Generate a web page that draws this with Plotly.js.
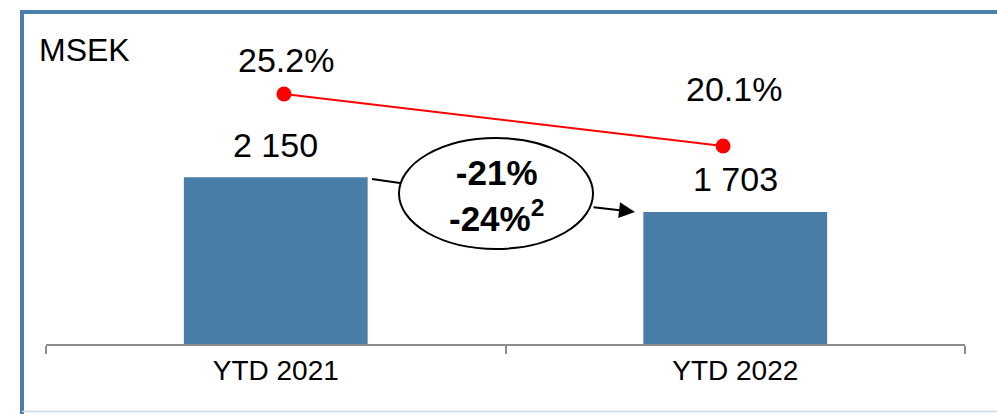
<!DOCTYPE html>
<html>
<head>
<meta charset="utf-8">
<script src="https://cdn.plot.ly/plotly-3.0.1.min.js"></script>
<style>
  html, body { margin: 0; padding: 0; background: #ffffff; }
  #chart { width: 997px; height: 414px; }
</style>
</head>
<body>
<div id="chart"></div>
<script>
// Operating result, year to date, with margin
const periods = ['YTD 2021', 'YTD 2022'];
const resultMsek = [2150, 1703];
const marginPct = [25.2, 20.1];
const unitLabel = 'MSEK';
const changeLines = ['-21%', '-24%<sup>2</sup>'];

const FONT = 'Liberation Sans, Arial, sans-serif';
const BAR_BLUE = '#4a7ea8';
const FRAME_BLUE = '#4a7fab';

// figure geometry (pixels) used to place decorations in paper coordinates
const W = 997, H = 414;
const M = { l: 46, r: 32, t: 30, b: 70 };
const PW = W - M.l - M.r, PH = H - M.t - M.b;
const px = x => (x - M.l) / PW;
const py = y => (H - M.b - y) / PH;

const fmtThousands = v => String(v).replace(/\B(?=(\d{3})+(?!\d))/g, ' ');

const bars = {
  type: 'bar',
  x: periods,
  y: resultMsek,
  width: 0.4,
  marker: { color: BAR_BLUE },
  hoverinfo: 'skip'
};

const margin = {
  type: 'scatter',
  mode: 'lines+markers',
  x: periods,
  y: marginPct,
  xaxis: 'x2',
  yaxis: 'y2',
  line: { color: '#ff0000', width: 2 },
  marker: { color: '#ff0000', size: 15 },
  hoverinfo: 'skip'
};

const annotations = [];

// value labels above the bars
const barShift = [32, 33];
resultMsek.forEach((v, i) => {
  annotations.push({
    x: periods[i], y: v, xref: 'x', yref: 'y',
    text: fmtThousands(v), showarrow: false,
    yanchor: 'middle', yshift: barShift[i],
    font: { family: FONT, size: 34, color: '#000000' }
  });
});

// margin labels above the line points
const pctShift = [[2, 34], [11, 57]];
marginPct.forEach((v, i) => {
  annotations.push({
    x: periods[i], y: v, xref: 'x2', yref: 'y2',
    text: v.toFixed(1) + '%', showarrow: false,
    yanchor: 'middle', xshift: pctShift[i][0], yshift: pctShift[i][1],
    font: { family: FONT, size: 34, color: '#000000' }
  });
});

// unit label
annotations.push({
  x: px(37), y: py(50), xref: 'paper', yref: 'paper',
  xanchor: 'left', yanchor: 'middle', showarrow: false,
  text: unitLabel,
  font: { family: FONT, size: 32, color: '#000000' }
});

// change figures inside the ellipse
annotations.push({
  x: px(496), y: py(195), xref: 'paper', yref: 'paper',
  xanchor: 'center', yanchor: 'middle', showarrow: false,
  text: '<b>' + changeLines.join('<br>') + '</b>',
  font: { family: FONT, size: 35, color: '#000000' }
});

// arrow from the ellipse towards the second bar
annotations.push({
  x: px(635), y: py(212), xref: 'paper', yref: 'paper',
  ax: px(592), ay: py(207), axref: 'paper', ayref: 'paper',
  text: '', showarrow: true,
  arrowhead: 2, arrowsize: 1.6, arrowwidth: 2, arrowcolor: '#000000'
});

const shapes = [
  // chart frame
  { type: 'line', xref: 'paper', yref: 'paper',
    x0: px(22), y0: py(12), x1: px(1000), y1: py(12),
    line: { color: FRAME_BLUE, width: 4 } },
  { type: 'line', xref: 'paper', yref: 'paper',
    x0: px(22), y0: py(10), x1: px(22), y1: py(414),
    line: { color: FRAME_BLUE, width: 4 } },
  { type: 'line', xref: 'paper', yref: 'paper',
    x0: px(22), y0: py(411.5), x1: px(1000), y1: py(411.5),
    line: { color: '#c9d6e2', width: 1.5 } },
  // connector from first bar to the ellipse
  { type: 'line', xref: 'paper', yref: 'paper',
    x0: px(372), y0: py(179), x1: px(400), y1: py(183),
    line: { color: '#000000', width: 2 } },
  // ellipse
  { type: 'circle', xref: 'paper', yref: 'paper',
    x0: px(399), y0: py(249), x1: px(593), y1: py(138),
    fillcolor: '#ffffff', line: { color: '#000000', width: 2 } }
];

const layout = {
  width: W, height: H,
  margin: M,
  paper_bgcolor: '#ffffff',
  plot_bgcolor: '#ffffff',
  showlegend: false,
  font: { family: FONT, color: '#000000' },
  xaxis: {
    type: 'category',
    range: [-0.5, 1.5],
    showline: true, linecolor: '#8c8c8c', linewidth: 2,
    ticks: 'outside', tickson: 'boundaries',
    ticklen: 8, tickwidth: 2, tickcolor: '#8c8c8c',
    tickfont: { family: FONT, size: 28, color: '#000000' },
    showgrid: false, zeroline: false, fixedrange: true
  },
  yaxis: {
    range: [0, 4050], visible: false, fixedrange: true
  },
  xaxis2: {
    type: 'category', overlaying: 'x',
    range: [-0.542, 1.551], visible: false, fixedrange: true
  },
  yaxis2: {
    overlaying: 'y', side: 'right',
    range: [0.675, 31.48], visible: false, fixedrange: true
  },
  shapes: shapes,
  annotations: annotations
};

Plotly.newPlot('chart', [bars, margin], layout, { displayModeBar: false, staticPlot: true });
</script>
</body>
</html>
